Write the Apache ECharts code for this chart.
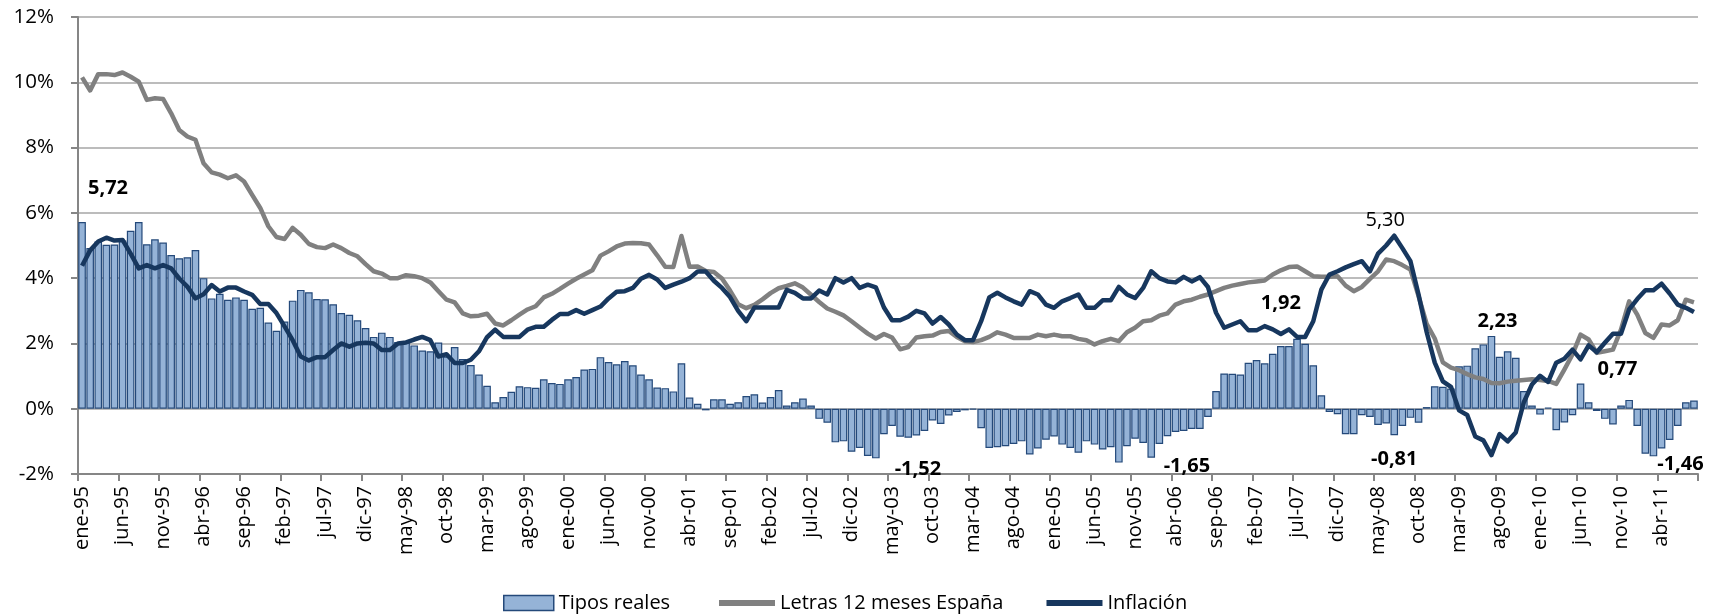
<!DOCTYPE html>
<html>
<head>
<meta charset="utf-8">
<script src="https://cdn.jsdelivr.net/npm/echarts@6/dist/echarts.min.js"></script>
<style>
html,body{margin:0;padding:0;background:#fff;}
#chart{width:1717px;height:614px;}
</style>
</head>
<body>
<div id="chart"></div>
<script>
// ---- Data ----
const monthNames = ['ene','feb','mar','abr','may','jun','jul','ago','sep','oct','nov','dic'];
const years = ['95','96','97','98','99','00','01','02','03','04','05','06','07','08','09','10','11'];
const categories = [];
years.forEach(y => monthNames.forEach(m => { if (categories.length < 200) categories.push(m + '-' + y); }));

const yTicks = [-2, 0, 2, 4, 6, 8, 10, 12];

const tiposReales = [
  5.72, 4.92, 5.12, 5.02, 5.03, 5.15, 5.45, 5.72, 5.04, 5.19, 5.09, 4.71, 4.61, 4.64, 4.86, 4.00, 3.38, 3.52, 3.34, 3.41,
  3.34, 3.06, 3.09, 2.64, 2.39, 2.67, 3.31, 3.64, 3.57, 3.36, 3.35, 3.20, 2.93, 2.88, 2.71, 2.47, 2.20, 2.33, 2.20, 2.04,
  2.04, 1.94, 1.78, 1.76, 2.03, 1.60, 1.89, 1.52, 1.34, 1.05, 0.70, 0.20, 0.36, 0.52, 0.69, 0.66, 0.64, 0.90, 0.79, 0.76,
  0.90, 0.97, 1.20, 1.22, 1.58, 1.43, 1.36, 1.46, 1.33, 1.05, 0.90, 0.65, 0.63, 0.53, 1.39, 0.34, 0.15, -0.05, 0.29, 0.29,
  0.15, 0.20, 0.39, 0.44, 0.19, 0.36, 0.57, 0.10, 0.20, 0.31, 0.10, -0.31, -0.43, -1.03, -1.00, -1.32, -1.20, -1.45, -1.52, -0.78,
  -0.53, -0.86, -0.89, -0.82, -0.68, -0.36, -0.47, -0.21, -0.10, -0.05, -0.03, -0.60, -1.20, -1.18, -1.15, -1.08, -1.00, -1.40, -1.22, -0.95,
  -0.85, -1.10, -1.20, -1.35, -1.00, -1.10, -1.25, -1.18, -1.65, -1.15, -0.92, -1.05, -1.50, -1.08, -0.84, -0.71, -0.68, -0.62, -0.62, -0.25,
  0.54, 1.08, 1.07, 1.05, 1.41, 1.49, 1.39, 1.68, 1.92, 1.92, 2.14, 1.99, 1.33, 0.41, -0.10, -0.17, -0.78, -0.78, -0.20, -0.25,
  -0.50, -0.45, -0.81, -0.53, -0.28, -0.43, 0.05, 0.69, 0.67, 0.62, 1.30, 1.32, 1.85, 1.97, 2.23, 1.59, 1.76, 1.56, 0.54, 0.10,
  -0.18, 0.03, -0.66, -0.42, -0.20, 0.77, 0.20, -0.07, -0.31, -0.48, 0.10, 0.27, -0.53, -1.38, -1.46, -1.22, -0.96, -0.53, 0.20, 0.25
];

const letras = [
  10.15, 9.75, 10.25, 10.25, 10.22, 10.30, 10.17, 10.02, 9.46, 9.51, 9.49, 9.05, 8.54, 8.34, 8.24, 7.52, 7.24, 7.17, 7.06, 7.15,
  6.96, 6.55, 6.15, 5.59, 5.26, 5.20, 5.54, 5.33, 5.05, 4.95, 4.92, 5.03, 4.92, 4.77, 4.67, 4.43, 4.21, 4.14, 4.00, 4.00,
  4.09, 4.06, 4.00, 3.87, 3.60, 3.34, 3.26, 2.92, 2.83, 2.85, 2.91, 2.61, 2.55, 2.71, 2.88, 3.04, 3.14, 3.41, 3.52, 3.67,
  3.83, 3.98, 4.11, 4.24, 4.69, 4.82, 4.97, 5.06, 5.08, 5.07, 5.03, 4.70, 4.35, 4.34, 5.29, 4.35, 4.36, 4.22, 4.19, 3.99,
  3.62, 3.20, 3.08, 3.18, 3.35, 3.54, 3.69, 3.76, 3.84, 3.71, 3.49, 3.27, 3.07, 2.97, 2.86, 2.68, 2.49, 2.30, 2.15, 2.29,
  2.18, 1.82, 1.89, 2.18, 2.22, 2.24, 2.35, 2.38, 2.20, 2.07, 2.04, 2.10, 2.20, 2.34, 2.27, 2.17, 2.17, 2.17, 2.27, 2.22,
  2.27, 2.22, 2.22, 2.14, 2.10, 1.97, 2.07, 2.14, 2.07, 2.34, 2.48, 2.68, 2.71, 2.85, 2.92, 3.19, 3.29, 3.34, 3.43, 3.50,
  3.60, 3.70, 3.77, 3.82, 3.87, 3.90, 3.93, 4.11, 4.24, 4.34, 4.36, 4.21, 4.06, 4.04, 4.04, 4.06, 3.77, 3.60, 3.73, 3.98,
  4.21, 4.57, 4.52, 4.40, 4.26, 3.45, 2.60, 2.15, 1.42, 1.26, 1.18, 1.06, 0.96, 0.91, 0.79, 0.78, 0.83, 0.86, 0.88, 0.90,
  0.88, 0.85, 0.76, 1.20, 1.66, 2.27, 2.12, 1.71, 1.76, 1.81, 2.43, 3.29, 2.88, 2.32, 2.17, 2.58, 2.55, 2.71, 3.34, 3.26
];

const inflacion = [
  4.38, 4.85, 5.12, 5.24, 5.15, 5.17, 4.75, 4.30, 4.40, 4.30, 4.40, 4.30, 3.99, 3.74, 3.38, 3.51, 3.79, 3.59, 3.71, 3.71,
  3.59, 3.49, 3.21, 3.21, 2.93, 2.52, 2.10, 1.60, 1.48, 1.58, 1.58, 1.80, 2.00, 1.90, 2.00, 2.02, 2.00, 1.80, 1.80, 2.00,
  2.03, 2.12, 2.20, 2.10, 1.60, 1.67, 1.40, 1.40, 1.50, 1.76, 2.19, 2.42, 2.20, 2.20, 2.20, 2.42, 2.51, 2.51, 2.72, 2.90,
  2.90, 3.02, 2.91, 3.02, 3.13, 3.38, 3.58, 3.60, 3.70, 3.98, 4.10, 3.96, 3.70, 3.80, 3.89, 4.00, 4.20, 4.20, 3.92, 3.70,
  3.42, 3.00, 2.68, 3.10, 3.10, 3.10, 3.10, 3.64, 3.55, 3.38, 3.38, 3.62, 3.50, 4.00, 3.87, 4.00, 3.70, 3.80, 3.72, 3.10,
  2.71, 2.71, 2.82, 3.00, 2.92, 2.61, 2.81, 2.58, 2.27, 2.10, 2.10, 2.68, 3.41, 3.55, 3.41, 3.29, 3.19, 3.60, 3.50, 3.19,
  3.09, 3.29, 3.39, 3.50, 3.09, 3.09, 3.32, 3.32, 3.73, 3.50, 3.39, 3.70, 4.21, 4.00, 3.90, 3.87, 4.04, 3.90, 4.03, 3.73,
  2.94, 2.48, 2.58, 2.68, 2.40, 2.40, 2.53, 2.43, 2.29, 2.43, 2.20, 2.20, 2.68, 3.65, 4.11, 4.21, 4.33, 4.43, 4.52, 4.21,
  4.75, 5.00, 5.30, 4.92, 4.52, 3.50, 2.35, 1.41, 0.84, 0.67, -0.05, -0.19, -0.85, -0.97, -1.42, -0.78, -1.00, -0.73, 0.20, 0.74,
  1.01, 0.82, 1.41, 1.53, 1.81, 1.51, 1.94, 1.73, 2.02, 2.30, 2.30, 3.04, 3.36, 3.63, 3.63, 3.83, 3.53, 3.19, 3.09, 2.96
];

const seriesNames = ['Tipos reales', 'Letras 12 meses España', 'Inflación'];

// Points carrying a data label (indices into the arrays above)
const tiposLabelIdx = [0, 98, 128, 148, 162, 174, 185, 194];
const inflLabelIdx = [162];

// ---- Styling / label placement ----
const FONT = '"Open Sans", Lato, sans-serif';
const fmt = v => v.toFixed(2).replace('.', ',');
const labelOffsets = { 0: [26, -19], 98: [42, -4], 128: [68, -11], 148: [0, -28], 162: [0, 9], 174: [6, 0], 185: [37, 1], 194: [27, -7] };

const barData = tiposReales.map((v, i) => {
  if (tiposLabelIdx.indexOf(i) < 0) return v;
  return {
    value: v,
    label: {
      show: true,
      position: v >= 0 ? 'top' : 'bottom',
      offset: labelOffsets[i],
      fontFamily: FONT, fontSize: 20, fontWeight: 'bold', color: '#000',
      formatter: p => fmt(p.value)
    }
  };
});
const inflData = inflacion.map((v, i) => {
  if (inflLabelIdx.indexOf(i) < 0) return v;
  return {
    value: v,
    label: {
      show: true, position: 'top', offset: [-9, 0],
      fontFamily: FONT, fontSize: 20, color: '#000',
      formatter: p => fmt(p.value)
    }
  };
});

const legendText = { fontFamily: FONT, fontSize: 20, color: '#000' };

const chart = echarts.init(document.getElementById('chart'), null, { renderer: 'canvas' });
chart.setOption({
  animation: false,
  backgroundColor: '#fff',
  grid: { left: 78, right: 19, top: 17, bottom: 140, containLabel: false },
  legend: [
    {
      data: [seriesNames[0]],
      left: 498, top: 588,
      icon: 'rect', itemWidth: 50, itemHeight: 15,
      itemStyle: { color: '#95b3d7', borderColor: '#24497a', borderWidth: 1.5 },
      textStyle: legendText
    },
    {
      data: [seriesNames[1], seriesNames[2]],
      left: 714, top: 588,
      icon: 'rect', itemWidth: 56, itemHeight: 6, itemGap: 43,
      textStyle: legendText
    }
  ],
  xAxis: {
    type: 'category',
    data: categories,
    boundaryGap: true,
    axisLine: { onZero: false, lineStyle: { color: '#868686', width: 2 } },
    axisTick: { show: true, interval: 4, length: 7, lineStyle: { color: '#868686', width: 2 } },
    axisLabel: { interval: 4, rotate: 90, margin: 12, fontFamily: FONT, fontSize: 20, color: '#000' },
    splitLine: { show: false }
  },
  yAxis: {
    type: 'value',
    min: yTicks[0], max: yTicks[yTicks.length - 1], interval: 2,
    axisLine: { show: true, lineStyle: { color: '#868686', width: 2 } },
    axisTick: { show: true, length: 7, lineStyle: { color: '#868686', width: 2 } },
    axisLabel: { formatter: v => v + '%', margin: 24, fontFamily: FONT, fontSize: 20.5, color: '#000' },
    splitLine: { lineStyle: { color: '#a6a6a6', width: 1.5 } }
  },
  series: [
    {
      name: seriesNames[0], type: 'bar', data: barData,
      barCategoryGap: '6%',
      itemStyle: { color: '#95b3d7', borderColor: '#24497a', borderWidth: 1.2 },
      z: 1
    },
    {
      name: seriesNames[1], type: 'line', data: letras,
      symbol: 'none', smooth: false,
      lineStyle: { color: '#808080', width: 4.5, join: 'round' },
      itemStyle: { color: '#808080' },
      z: 2
    },
    {
      name: seriesNames[2], type: 'line', data: inflData,
      symbol: 'circle', symbolSize: 0, showSymbol: true, showAllSymbol: true,
      smooth: false,
      lineStyle: { color: '#17375e', width: 4.5, join: 'round' },
      itemStyle: { color: '#17375e' },
      z: 3
    }
  ]
});
</script>
</body>
</html>
